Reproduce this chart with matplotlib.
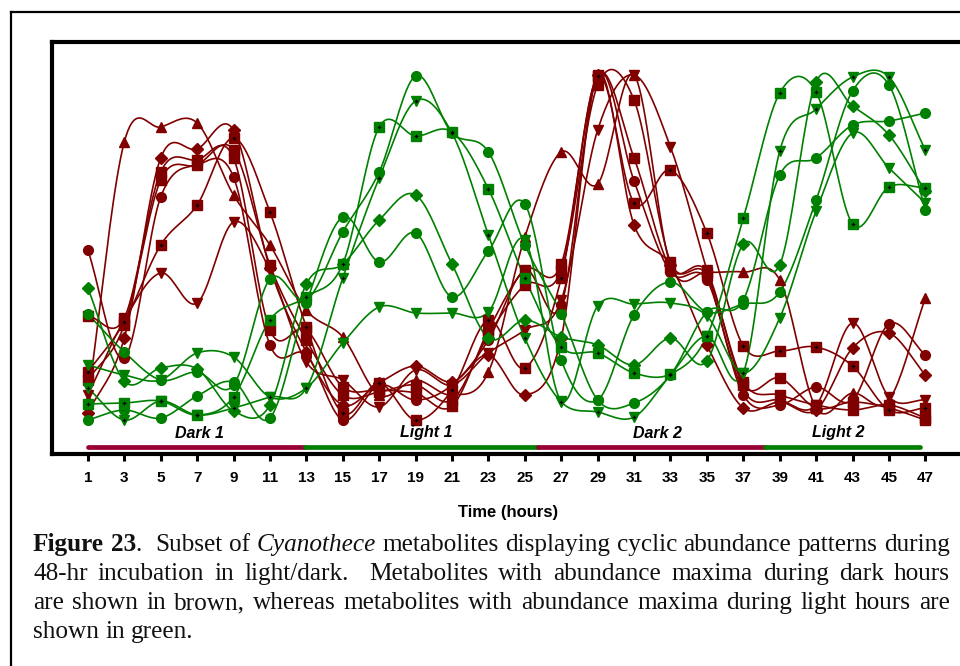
import numpy as np
import matplotlib
matplotlib.use('Agg')
import matplotlib.pyplot as plt
from matplotlib.lines import Line2D

# sampling times (hours)
hours = list(range(1, 48, 2))

# relative abundance (arbitrary units), metabolites peaking in the dark -> brown
brown_tri_up = [54, 312, 327, 331, 259, 209, 144, 117, 59, 74, 59, 82, 217, 302, 270, 379, 189, 182, 182, 174, 46, 61, 54, 156]
brown_tri_down = [59, 134, 181, 151, 232, 184, 92, 74, 47, 84, 69, 101, 124, 154, 324, 379, 307, 184, 64, 54, 49, 131, 57, 54]
brown_diamond = [41, 116, 296, 305, 324, 186, 102, 49, 71, 88, 72, 99, 59, 116, 379, 229, 189, 109, 46, 52, 44, 106, 121, 79]
brown_square = [138, 136, 282, 294, 296, 124, 124, 67, 64, 61, 48, 124, 184, 190, 379, 296, 186, 182, 69, 76, 46, 52, 46, 34]
brown_circle = [204, 96, 257, 289, 277, 109, 99, 34, 69, 54, 69, 114, 184, 149, 379, 273, 182, 174, 59, 49, 67, 54, 130, 99]
brown_square_dot = [82, 132, 209, 249, 316, 242, 127, 41, 71, 34, 64, 134, 86, 176, 378, 251, 284, 221, 108, 103, 107, 88, 44, 46]
brown_square_b = [74, 129, 274, 289, 304, 189, 114, 59, 62, 69, 54, 119, 169, 184, 369, 354, 192, 179, 72, 59, 49, 44, 49, 36]

# metabolites peaking in the light -> green
green_circle = [140, 102, 74, 82, 69, 175, 154, 222, 282, 378, 321, 302, 209, 140, 54, 51, 79, 142, 154, 279, 296, 329, 333, 341]
green_tri_dot = [66, 34, 53, 39, 46, 57, 66, 176, 276, 353, 321, 219, 116, 52, 42, 37, 79, 118, 81, 303, 345, 377, 377, 304]
green_square_dot = [50, 51, 53, 39, 57, 134, 157, 190, 327, 318, 322, 265, 176, 107, 101, 81, 80, 118, 236, 361, 362, 230, 267, 266]
green_diamond = [166, 73, 86, 85, 43, 49, 170, 190, 234, 259, 190, 116, 134, 117, 109, 89, 116, 93, 210, 189, 372, 348, 319, 263]
green_circle_b = [34, 44, 36, 58, 72, 36, 151, 237, 192, 221, 157, 203, 250, 94, 54, 139, 172, 142, 150, 162, 254, 363, 369, 244]
green_tri_down = [89, 79, 74, 101, 97, 57, 66, 111, 147, 141, 141, 142, 214, 53, 148, 150, 151, 138, 81, 136, 243, 321, 286, 251]

# light / dark periods (hours)
period_names = ['Dark 1', 'Light 1', 'Dark 2', 'Light 2']
period_start = [1, 12.9, 25.7, 38.2]
period_end = [12.9, 25.7, 38.2, 46.7]

BROWN = '#800000'
GREEN = '#008000'
BAR_DARK = '#990033'


def smooth(x, y, n=20):
    # cardinal (Catmull-Rom) spline through the points
    x = np.asarray(x, float)
    y = np.asarray(y, float)
    m = np.gradient(y, x)
    s = np.linspace(0, 1, n, endpoint=False)
    h00 = 2 * s**3 - 3 * s**2 + 1
    h10 = s**3 - 2 * s**2 + s
    h01 = -2 * s**3 + 3 * s**2
    h11 = s**3 - s**2
    xs, ys = [], []
    for i in range(len(x) - 1):
        h = x[i + 1] - x[i]
        xs.append(x[i] + s * h)
        ys.append(h00 * y[i] + h10 * h * m[i] + h01 * y[i + 1] + h11 * h * m[i + 1])
    xs.append([x[-1]])
    ys.append([y[-1]])
    return np.concatenate(xs), np.concatenate(ys)


series = [
    (brown_tri_up, BROWN, '^', 7, False),
    (brown_tri_down, BROWN, 'v', 7, False),
    (brown_diamond, BROWN, 'D', 6, False),
    (brown_square, BROWN, 's', 7, False),
    (brown_circle, BROWN, 'o', 7, False),
    (brown_square_dot, BROWN, 's', 7, True),
    (brown_square_b, BROWN, 's', 6.5, False),
    (green_circle, GREEN, 'o', 7, False),
    (green_tri_dot, GREEN, 'v', 7, True),
    (green_square_dot, GREEN, 's', 7, True),
    (green_diamond, GREEN, 'D', 6, False),
    (green_circle_b, GREEN, 'o', 7, False),
    (green_tri_down, GREEN, 'v', 7, False),
]

fig = plt.figure(figsize=(9.6, 6.66), dpi=100)
ax = fig.add_axes([52 / 960, (666 - 454) / 666, (980 - 52) / 960, (454 - 42) / 666])

for vals, col, mk, ms, dot in series:
    xs, ys = smooth(hours, vals)
    ax.plot(xs, ys, color=col, lw=1.2, zorder=2)
    ax.plot(hours, vals, ls='none', marker=mk, ms=ms, color=col, mec=col, zorder=3)
    if dot:
        ax.plot(hours, vals, ls='none', marker='P', ms=2.6, color='black', mew=0, zorder=4)

# period bars and labels
for name, a, b in zip(period_names, period_start, period_end):
    col = BAR_DARK if name.startswith('Dark') else GREEN
    ax.plot([a, b], [7, 7], color=col, lw=3.4, solid_capstyle='round', zorder=1)
label_pos = [7.15, 19.6, 32.3, 42.2]
for name, xp in zip(period_names, label_pos):
    ax.text(xp, 21, name, ha='center', va='center', fontsize=11.5,
            fontweight='bold', fontstyle='italic', family='Liberation Sans')

ax.set_xlim(-0.97, 50.0)
ax.set_ylim(0, 412)
ax.set_xticks(hours)
ax.set_xticklabels([str(h) for h in hours], fontweight='bold', fontsize=11,
                   family='Liberation Sans')
ax.set_yticks([])
ax.tick_params(axis='x', direction='out', length=5, width=2.2, pad=7)
for sp in ax.spines.values():
    sp.set_linewidth(3)

fig.text(508 / 960, 1 - 513 / 666, 'Time (hours)', ha='center', va='center',
         fontsize=12, fontweight='bold', family='Liberation Sans')

# outer frame (top and left edges visible)
fig.add_artist(Line2D([11 / 960, 1.0], [1 - 12 / 666, 1 - 12 / 666], color='black', lw=1.6))
fig.add_artist(Line2D([11 / 960, 11 / 960], [0, 1 - 12 / 666], color='black', lw=1.6))

# caption, justified between x=33 and x=950 px
caption = [
    [('Figure 23', 'bold', 'normal'), ('.  Subset of ', 'normal', 'normal'),
     ('Cyanothece', 'normal', 'italic'),
     (' metabolites displaying cyclic abundance patterns during', 'normal', 'normal')],
    [('48-hr incubation in light/dark.  Metabolites with abundance maxima during dark hours', 'normal', 'normal')],
    [('are shown in brown, whereas metabolites with abundance maxima during light hours are', 'normal', 'normal')],
    [('shown in green.', 'normal', 'normal')],
]
justify = [True, True, True, False]
baselines = [551, 580, 609, 638]
x_left, x_right = 33, 950
renderer = fig.canvas.get_renderer()
W = fig.bbox.width


def piece_width(txt, size, weight, style):
    t1 = fig.text(0, 0, txt + 'x', fontsize=size, fontweight=weight, fontstyle=style, family='Liberation Serif')
    t2 = fig.text(0, 0, 'x', fontsize=size, fontweight=weight, fontstyle=style, family='Liberation Serif')
    w = t1.get_window_extent(renderer).width - t2.get_window_extent(renderer).width
    t1.remove()
    t2.remove()
    return w


def split_words(segs):
    words = [[]]
    for txt, wt, st in segs:
        for k, p in enumerate(txt.split(' ')):
            if k > 0:
                words.append([])
            if p:
                words[-1].append((p, wt, st))
    return words


base = 10.0
natural = [sum(piece_width(p, base, wt, st) for p, wt, st in line) for line in caption[:3]]
size = base * (x_right - x_left) / max(natural)
space = piece_width(' ', size, 'normal', 'normal')

for line, yb, just in zip(caption, baselines, justify):
    words = split_words(line)
    wwidth = [sum(piece_width(p, size, wt, st) for p, wt, st in w) for w in words]
    gap = (x_right - x_left - sum(wwidth)) / (len(words) - 1) if just else space
    x = x_left
    for w, ww in zip(words, wwidth):
        xp = x
        for p, wt, st in w:
            fig.text(xp / W, 1 - yb / 666, p, fontsize=size, fontweight=wt, fontstyle=st,
                     family='Liberation Serif', va='baseline', ha='left', color='#111111')
            xp += piece_width(p, size, wt, st)
        x += ww + gap

fig.savefig('out.png', dpi=100)
